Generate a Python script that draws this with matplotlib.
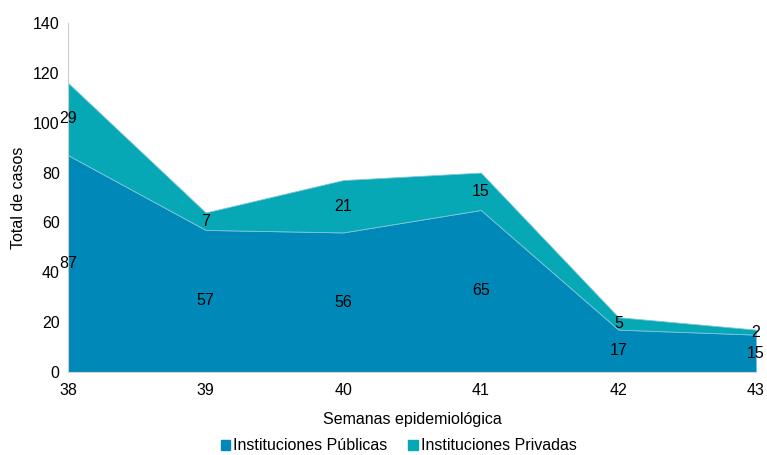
import matplotlib.pyplot as plt
import numpy as np
from matplotlib.patches import Patch

plt.rcParams['font.family'] = ['Liberation Sans', 'DejaVu Sans']

semanas = [38, 39, 40, 41, 42, 43]
publicas = [87, 57, 56, 65, 17, 15]
privadas = [29, 7, 21, 15, 5, 2]

col_pub = '#0089B8'
col_priv = '#05A8B4'
fs = 11.5

fig = plt.figure(figsize=(7.67, 4.55), dpi=100)
ax = fig.add_axes([0.0887, 0.1824, 0.897, 0.767])

ax.stackplot(semanas, publicas, privadas, colors=[col_pub, col_priv],
             edgecolor='#7fc4dc', linewidth=0.6)

# etiquetas de datos al centro de cada segmento
for x, p, q in zip(semanas, publicas, privadas):
    ax.text(x, p / 2, str(p), ha='center', va='center', fontsize=fs, color='black')
    ax.text(x, p + q / 2, str(q), ha='center', va='center', fontsize=fs, color='black')

ax.set_xlim(38, 43)
ax.set_ylim(0, 140)
ax.set_yticks(range(0, 141, 20))
ax.set_xticks(semanas)
ax.tick_params(length=0, labelsize=fs, pad=6)
ax.tick_params(axis='x', pad=8)
for s in ['top', 'right']:
    ax.spines[s].set_visible(False)
ax.spines['left'].set_color('#c8cdd2')
ax.spines['bottom'].set_color('#d0d5da')

ax.set_ylabel('Total de casos', fontsize=fs, labelpad=5)
ax.set_xlabel('Semanas epidemiológica', fontsize=fs, labelpad=10)

handles = [Patch(color=col_pub, label='Instituciones Públicas'),
           Patch(color=col_priv, label='Instituciones Privadas')]
fig.legend(handles=handles, loc='center', bbox_to_anchor=(0.52, 0.02), ncol=2,
           frameon=False, fontsize=fs, handlelength=0.6, handleheight=0.6,
           handletextpad=0.2, columnspacing=1.3, borderpad=0.1)

fig.savefig('out.png', dpi=100)
